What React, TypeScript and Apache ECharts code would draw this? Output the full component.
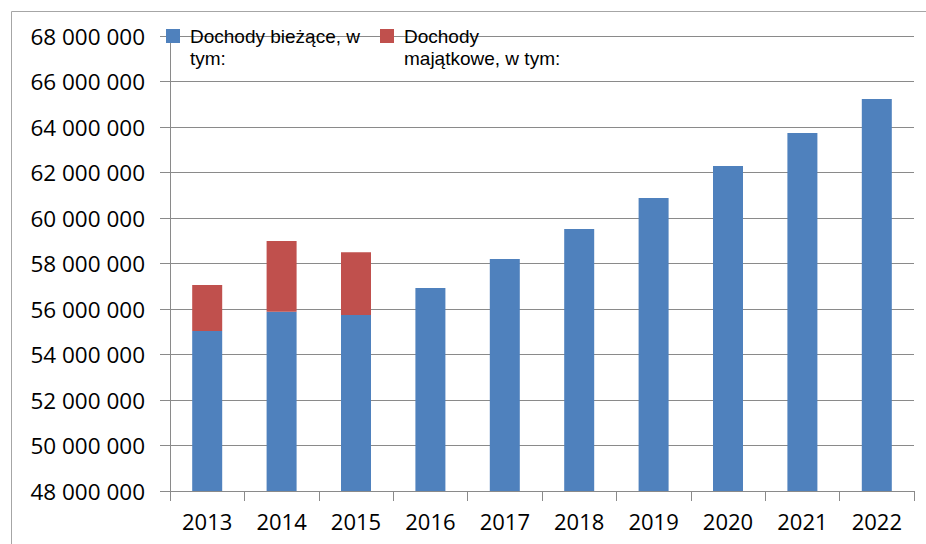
import React, { useEffect, useRef } from "react";
import * as echarts from "echarts";

const years = ["2013", "2014", "2015", "2016", "2017", "2018", "2019", "2020", "2021", "2022"];
const dochodyBiezace = [55030000, 55880000, 55740000, 56920000, 58200000, 59520000, 60880000, 62290000, 63740000, 65230000];
const dochodyMajatkowe: (number | null)[] = [2020000, 3110000, 2760000, null, null, null, null, null, null, null];
const seriesNames = ["Dochody bieżące, w tym:", "Dochody majątkowe, w tym:"];
const legendLabels: Record<string, string> = {
  "Dochody bieżące, w tym:": "\nDochody bieżące, w\ntym:",
  "Dochody majątkowe, w tym:": "\nDochody\nmajątkowe, w tym:",
};
const yMin = 48000000;
const yMax = 68000000;
const yStep = 2000000;

const fmt = (v: number) => String(Math.round(v)).replace(/\B(?=(\d{3})+(?!\d))/g, " ");

export default function App() {
  const ref = useRef<HTMLDivElement>(null);
  useEffect(() => {
    if (!ref.current) return;
    const chart = echarts.init(ref.current, undefined, { renderer: "svg" });
    const font = "'Open Sans', 'Noto Sans', sans-serif";
    const legendFont = "'Liberation Sans', Arial, sans-serif";
    const grey = "#8a8a8a";
    chart.setOption({
      animation: false,
      backgroundColor: "#ffffff",
      textStyle: { fontFamily: font },
      graphic: [
        {
          type: "rect",
          z: -10,
          silent: true,
          shape: { x: 11.5, y: 11.5, width: 1000, height: 1000 },
          style: { fill: "none", stroke: "#a6a6a6", lineWidth: 1 },
        },
      ],
      grid: { left: 170, right: 12, top: 36, bottom: 53, containLabel: false },
      legend: {
        left: 166,
        top: 3,
        padding: 0,
        itemWidth: 14,
        itemHeight: 14,
        itemGap: 15,
        icon: "rect",
        data: seriesNames,
        formatter: (name: string) => legendLabels[name] || name,
        textStyle: {
          fontFamily: legendFont,
          fontSize: 19,
          color: "#000",
          lineHeight: 22,
          padding: [0, 0, 0, 5],
          width: 175,
        },
      },
      xAxis: {
        type: "category",
        data: years,
        boundaryGap: true,
        axisLine: { show: true, lineStyle: { color: grey, width: 1 } },
        axisTick: { show: true, length: 10, alignWithLabel: false, lineStyle: { color: grey } },
        axisLabel: { color: "#000", fontSize: 22, fontFamily: font, margin: 19 },
        splitLine: { show: false },
      },
      yAxis: {
        type: "value",
        min: yMin,
        max: yMax,
        interval: yStep,
        axisLine: { show: true, lineStyle: { color: grey, width: 1 } },
        axisTick: { show: true, length: 10, lineStyle: { color: grey } },
        axisLabel: { color: "#000", fontSize: 22.5, fontFamily: font, margin: 25, formatter: (v: number) => fmt(v) },
        splitLine: { show: true, lineStyle: { color: grey, width: 1 } },
      },
      series: [
        {
          name: seriesNames[0],
          type: "bar",
          stack: "total",
          barWidth: 30,
          itemStyle: { color: "#4f81bd" },
          data: dochodyBiezace,
        },
        {
          name: seriesNames[1],
          type: "bar",
          stack: "total",
          barWidth: 30,
          itemStyle: { color: "#c0504d" },
          data: dochodyMajatkowe.map((v) => (v === null ? "-" : v)),
        },
      ],
    });
    return () => chart.dispose();
  }, []);
  return (
    <div
      ref={ref}
      style={{ position: "fixed", left: 0, top: 0, width: 926, height: 544 }}
    />
  );
}
